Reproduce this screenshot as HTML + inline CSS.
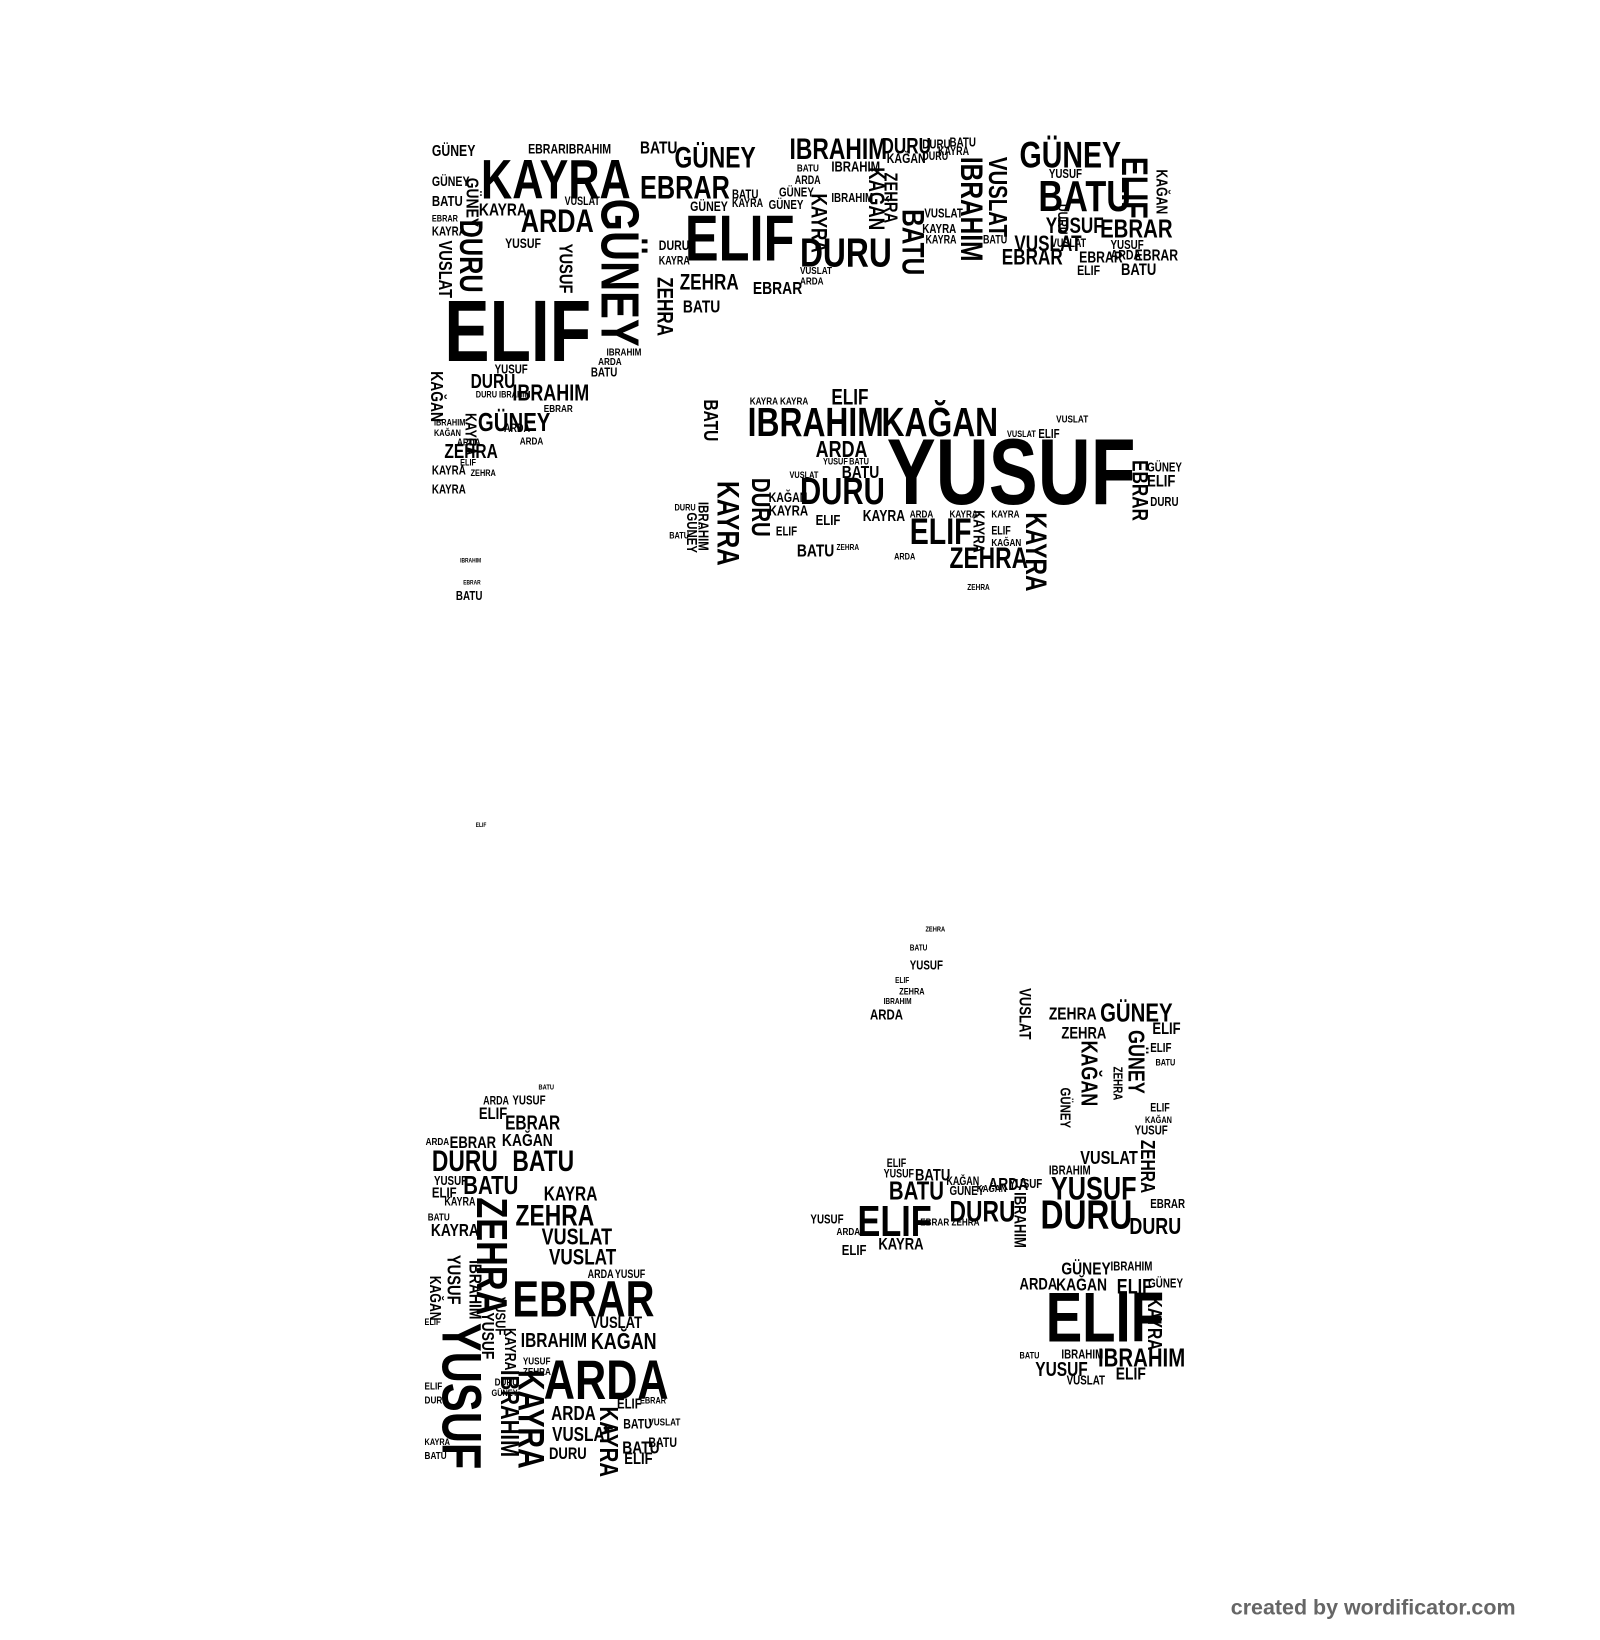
<!DOCTYPE html>
<html><head><meta charset="utf-8"><style>
html,body{margin:0;padding:0;background:#fff;width:1600px;height:1640px;overflow:hidden}
#c{position:absolute;left:0;top:0;width:1530px;height:1568px;transform:scale(1.0457);transform-origin:0 0}
#c div{position:absolute;font-family:"Liberation Sans Narrow","Liberation Sans",sans-serif;font-weight:bold;line-height:1;white-space:nowrap;color:#000;transform:scaleX(0.78);transform-origin:0 0}
#c div.v{writing-mode:vertical-rl;text-orientation:sideways;transform:scaleY(0.78)}
#c div.f{font-family:"Liberation Sans",sans-serif;color:#666;font-size:20.5px;transform:none}
</style></head><body><div id="c">
<!-- top region -->
<div style="left:460px;top:146px;font-size:53px">KAYRA</div>
<div style="left:425px;top:275px;font-size:83px">ELIF</div>
<div style="left:498px;top:196px;font-size:31px">ARDA</div>
<div style="left:655px;top:198px;font-size:62px">ELIF</div>
<div style="left:612px;top:164px;font-size:31px">EBRAR</div>
<div style="left:645px;top:137px;font-size:28px">GÜNEY</div>
<div style="left:755px;top:129px;font-size:28px">IBRAHIM</div>
<div style="left:843px;top:130px;font-size:21px">DURU</div>
<div style="left:765px;top:223px;font-size:39px">DURU</div>
<div style="left:975px;top:131px;font-size:35px">GÜNEY</div>
<div style="left:993px;top:167px;font-size:42px">BATU</div>
<div style="left:1052px;top:207px;font-size:25px">EBRAR</div>
<div style="left:958px;top:236px;font-size:21px">EBRAR</div>
<div style="left:1000px;top:206px;font-size:21px">YUSUF</div>
<div style="left:970px;top:223px;font-size:21px">VUSLAT</div>
<div style="left:650px;top:260px;font-size:21px">ZEHRA</div>
<div style="left:653px;top:285px;font-size:17px">BATU</div>
<div style="left:490px;top:365px;font-size:22px">IBRAHIM</div>
<div style="left:457px;top:392px;font-size:25px">GÜNEY</div>
<div style="left:425px;top:423px;font-size:19px">ZEHRA</div>
<div style="left:450px;top:356px;font-size:19px">DURU</div>
<div style="left:458px;top:192px;font-size:17px">KAYRA</div>
<div style="left:413px;top:137px;font-size:15px">GÜNEY</div>
<div style="left:413px;top:167px;font-size:13px">GÜNEY</div>
<div style="left:413px;top:185px;font-size:14px">BATU</div>
<div style="left:413px;top:215px;font-size:12px">KAYRA</div>
<div style="left:413px;top:205px;font-size:9px">EBRAR</div>
<div style="left:505px;top:136px;font-size:13px">EBRARIBRAHIM</div>
<div style="left:612px;top:133px;font-size:17px">BATU</div>
<div style="left:483px;top:226px;font-size:13px">YUSUF</div>
<div style="left:540px;top:188px;font-size:11px">VUSLAT</div>
<div style="left:630px;top:228px;font-size:13px">DURU</div>
<div style="left:630px;top:245px;font-size:11px">KAYRA</div>
<div style="left:660px;top:191px;font-size:13px">GÜNEY</div>
<div style="left:720px;top:267px;font-size:17px">EBRAR</div>
<div style="left:700px;top:180px;font-size:12px">BATU</div>
<div style="left:700px;top:190px;font-size:11px">KAYRA</div>
<div style="left:745px;top:178px;font-size:12px">GÜNEY</div>
<div style="left:735px;top:190px;font-size:12px">GÜNEY</div>
<div style="left:795px;top:152px;font-size:14px">IBRAHIM</div>
<div style="left:848px;top:145px;font-size:13px">KAĞAN</div>
<div style="left:795px;top:183px;font-size:12px">IBRAHIM</div>
<div style="left:882px;top:132px;font-size:12px">DURU</div>
<div style="left:882px;top:145px;font-size:11px">DURU</div>
<div style="left:908px;top:130px;font-size:12px">BATU</div>
<div style="left:897px;top:140px;font-size:11px">KAYRA</div>
<div style="left:884px;top:198px;font-size:12px">VUSLAT</div>
<div style="left:882px;top:213px;font-size:12px">KAYRA</div>
<div style="left:885px;top:225px;font-size:11px">KAYRA</div>
<div style="left:1032px;top:239px;font-size:15px">EBRAR</div>
<div style="left:1062px;top:237px;font-size:13px">ARDA</div>
<div style="left:1085px;top:237px;font-size:15px">EBRAR</div>
<div style="left:1072px;top:251px;font-size:16px">BATU</div>
<div style="left:1030px;top:252px;font-size:13px">ELIF</div>
<div style="left:1062px;top:228px;font-size:12px">YUSUF</div>
<div style="left:1005px;top:228px;font-size:11px">VUSLAT</div>
<div style="left:1003px;top:160px;font-size:12px">YUSUF</div>
<div style="left:940px;top:225px;font-size:11px">BATU</div>
<div style="left:765px;top:255px;font-size:10px">VUSLAT</div>
<div style="left:765px;top:265px;font-size:10px">ARDA</div>
<div style="left:760px;top:168px;font-size:11px">ARDA</div>
<div style="left:762px;top:157px;font-size:10px">BATU</div>
<div style="left:482px;top:405px;font-size:11px">ARDA</div>
<div style="left:473px;top:347px;font-size:12px">YUSUF</div>
<div style="left:565px;top:350px;font-size:12px">BATU</div>
<div style="left:572px;top:342px;font-size:10px">ARDA</div>
<div style="left:580px;top:333px;font-size:10px">IBRAHIM</div>
<div style="left:520px;top:387px;font-size:10px">EBRAR</div>
<div style="left:497px;top:418px;font-size:10px">ARDA</div>
<div style="left:413px;top:444px;font-size:12px">KAYRA</div>
<div style="left:413px;top:462px;font-size:12px">KAYRA</div>
<div style="left:415px;top:400px;font-size:9px">IBRAHIM</div>
<div style="left:415px;top:410px;font-size:9px">KAĞAN</div>
<div style="left:455px;top:373px;font-size:9px">DURU IBRAHIM</div>
<div style="left:437px;top:419px;font-size:10px">ARDA</div>
<div style="left:450px;top:448px;font-size:9px">ZEHRA</div>
<div style="left:440px;top:438px;font-size:9px">ELIF</div>
<!-- verticals top -->
<div class="v" style="left:567px;top:190px;font-size:51px">GÜNEY</div>
<div class="v" style="left:435px;top:210px;font-size:31px">DURU</div>
<div class="v" style="left:1067px;top:150px;font-size:35px">ELIF</div>
<div class="v" style="left:913px;top:150px;font-size:30px">IBRAHIM</div>
<div class="v" style="left:941px;top:150px;font-size:25px">VUSLAT</div>
<div class="v" style="left:857px;top:200px;font-size:30px">BATU</div>
<div class="v" style="left:625px;top:265px;font-size:21px">ZEHRA</div>
<div class="v" style="left:772px;top:185px;font-size:21px">KAYRA</div>
<div class="v" style="left:827px;top:160px;font-size:21px">KAĞAN</div>
<div class="v" style="left:843px;top:165px;font-size:18px">ZEHRA</div>
<div class="v" style="left:417px;top:230px;font-size:18px">VUSLAT</div>
<div class="v" style="left:532px;top:233px;font-size:18px">YUSUF</div>
<div class="v" style="left:409px;top:355px;font-size:17px">KAĞAN</div>
<div class="v" style="left:442px;top:395px;font-size:15px">KAYRA</div>
<div class="v" style="left:443px;top:170px;font-size:17px">GÜNEY</div>
<div class="v" style="left:1103px;top:162px;font-size:15px">KAĞAN</div>
<div class="v" style="left:1010px;top:195px;font-size:13px">DURU</div>
<!-- middle -->
<div style="left:848px;top:407px;font-size:90px">YUSUF</div>
<div style="left:715px;top:385px;font-size:39px">IBRAHIM</div>
<div style="left:843px;top:385px;font-size:39px">KAĞAN</div>
<div style="left:795px;top:370px;font-size:21px">ELIF</div>
<div style="left:780px;top:419px;font-size:22px">ARDA</div>
<div style="left:765px;top:452px;font-size:36px">DURU</div>
<div style="left:870px;top:491px;font-size:35px">ELIF</div>
<div style="left:908px;top:520px;font-size:28px">ZEHRA</div>
<div style="left:762px;top:518px;font-size:17px">BATU</div>
<div style="left:825px;top:486px;font-size:15px">KAYRA</div>
<div style="left:805px;top:443px;font-size:17px">BATU</div>
<div style="left:735px;top:469px;font-size:13px">KAĞAN</div>
<div style="left:735px;top:481px;font-size:14px">KAYRA</div>
<div style="left:780px;top:490px;font-size:14px">ELIF</div>
<div style="left:742px;top:502px;font-size:12px">ELIF</div>
<div style="left:717px;top:380px;font-size:10px">KAYRA KAYRA</div>
<div style="left:1097px;top:441px;font-size:12px">GÜNEY</div>
<div style="left:1097px;top:453px;font-size:16px">ELIF</div>
<div style="left:1100px;top:474px;font-size:12px">DURU</div>
<div style="left:1010px;top:397px;font-size:10px">VUSLAT</div>
<div style="left:993px;top:409px;font-size:12px">ELIF</div>
<div style="left:963px;top:411px;font-size:9px">VUSLAT</div>
<div style="left:870px;top:488px;font-size:10px">ARDA</div>
<div style="left:908px;top:488px;font-size:10px">KAYRA</div>
<div style="left:948px;top:488px;font-size:10px">KAYRA</div>
<div style="left:948px;top:515px;font-size:10px">KAĞAN</div>
<div style="left:948px;top:503px;font-size:11px">ELIF</div>
<div style="left:855px;top:528px;font-size:9px">ARDA</div>
<div style="left:925px;top:558px;font-size:8px">ZEHRA</div>
<div style="left:800px;top:520px;font-size:8px">ZEHRA</div>
<div style="left:645px;top:481px;font-size:9px">DURU</div>
<div style="left:640px;top:508px;font-size:9px">BATU</div>
<div style="left:787px;top:437px;font-size:9px">YUSUF</div>
<div style="left:812px;top:437px;font-size:9px">BATU</div>
<div style="left:755px;top:450px;font-size:9px">VUSLAT</div>
<div class="v" style="left:976px;top:490px;font-size:28px">KAYRA</div>
<div class="v" style="left:680px;top:460px;font-size:30px">KAYRA</div>
<div class="v" style="left:669px;top:382px;font-size:19px">BATU</div>
<div class="v" style="left:714px;top:457px;font-size:25px">DURU</div>
<div class="v" style="left:1079px;top:440px;font-size:21px">EBRAR</div>
<div class="v" style="left:666px;top:480px;font-size:14px">IBRAHIM</div>
<div class="v" style="left:655px;top:490px;font-size:14px">GÜNEY</div>
<div class="v" style="left:928px;top:488px;font-size:15px">KAYRA</div>
<!-- isolated -->
<div style="left:440px;top:534px;font-size:6px">IBRAHIM</div>
<div style="left:443px;top:555px;font-size:6px">EBRAR</div>
<div style="left:436px;top:564px;font-size:12px">BATU</div>
<div style="left:455px;top:787px;font-size:6px">ELIF</div>
<div style="left:885px;top:886px;font-size:7px">ZEHRA</div>
<div style="left:870px;top:903px;font-size:8px">BATU</div>
<div style="left:870px;top:917px;font-size:12px">YUSUF</div>
<div style="left:856px;top:934px;font-size:8px">ELIF</div>
<div style="left:860px;top:944px;font-size:9px">ZEHRA</div>
<div style="left:845px;top:954px;font-size:8px">IBRAHIM</div>
<div style="left:832px;top:963px;font-size:14px">ARDA</div>
<div style="left:515px;top:1037px;font-size:7px">BATU</div>
<!-- bottom right -->
<div style="left:1000px;top:1227px;font-size:67px">ELIF</div>
<div style="left:1050px;top:1287px;font-size:25px">IBRAHIM</div>
<div style="left:1005px;top:1121px;font-size:31px">YUSUF</div>
<div style="left:995px;top:1143px;font-size:39px">DURU</div>
<div style="left:820px;top:1147px;font-size:42px">ELIF</div>
<div style="left:850px;top:1127px;font-size:25px">BATU</div>
<div style="left:908px;top:1145px;font-size:28px">DURU</div>
<div style="left:1052px;top:957px;font-size:25px">GÜNEY</div>
<div style="left:1003px;top:961px;font-size:17px">ZEHRA</div>
<div style="left:1015px;top:981px;font-size:16px">ZEHRA</div>
<div style="left:1033px;top:1098px;font-size:18px">VUSLAT</div>
<div style="left:1080px;top:1162px;font-size:22px">DURU</div>
<div style="left:840px;top:1183px;font-size:16px">KAYRA</div>
<div style="left:990px;top:1301px;font-size:19px">YUSUF</div>
<div style="left:1015px;top:1205px;font-size:17px">GÜNEY</div>
<div style="left:1010px;top:1220px;font-size:17px">KAĞAN</div>
<div style="left:975px;top:1221px;font-size:16px">ARDA</div>
<div style="left:1062px;top:1205px;font-size:12px">IBRAHIM</div>
<div style="left:1068px;top:1221px;font-size:20px">ELIF</div>
<div style="left:1098px;top:1221px;font-size:12px">GÜNEY</div>
<div style="left:1067px;top:1305px;font-size:17px">ELIF</div>
<div style="left:1020px;top:1314px;font-size:12px">VUSLAT</div>
<div style="left:1015px;top:1289px;font-size:12px">IBRAHIM</div>
<div style="left:975px;top:1292px;font-size:9px">BATU</div>
<div style="left:1102px;top:977px;font-size:16px">ELIF</div>
<div style="left:1100px;top:996px;font-size:12px">ELIF</div>
<div style="left:1105px;top:1012px;font-size:9px">BATU</div>
<div style="left:1100px;top:1055px;font-size:11px">ELIF</div>
<div style="left:1085px;top:1075px;font-size:12px">YUSUF</div>
<div style="left:1095px;top:1067px;font-size:9px">KAĞAN</div>
<div style="left:1100px;top:1145px;font-size:12px">EBRAR</div>
<div style="left:945px;top:1124px;font-size:17px">ARDA</div>
<div style="left:880px;top:1165px;font-size:10px">EBRAR ZEHRA</div>
<div style="left:775px;top:1160px;font-size:12px">YUSUF</div>
<div style="left:805px;top:1188px;font-size:14px">ELIF</div>
<div style="left:800px;top:1174px;font-size:10px">ARDA</div>
<div style="left:848px;top:1108px;font-size:11px">ELIF</div>
<div style="left:845px;top:1118px;font-size:11px">YUSUF</div>
<div style="left:875px;top:1117px;font-size:16px">BATU</div>
<div style="left:908px;top:1133px;font-size:12px">GÜNEY</div>
<div style="left:934px;top:1133px;font-size:10px">KAĞAN</div>
<div style="left:905px;top:1125px;font-size:11px">KAĞAN</div>
<div style="left:965px;top:1126px;font-size:12px">YUSUF</div>
<div style="left:1003px;top:1113px;font-size:12px">IBRAHIM</div>
<div class="v" style="left:1075px;top:985px;font-size:22px">GÜNEY</div>
<div class="v" style="left:1030px;top:995px;font-size:22px">KAĞAN</div>
<div class="v" style="left:1094px;top:1240px;font-size:19px">KAYRA</div>
<div class="v" style="left:1087px;top:1090px;font-size:19px">ZEHRA</div>
<div class="v" style="left:966px;top:1140px;font-size:16px">IBRAHIM</div>
<div class="v" style="left:1012px;top:1040px;font-size:14px">GÜNEY</div>
<div class="v" style="left:971px;top:945px;font-size:16px">VUSLAT</div>
<div class="v" style="left:1063px;top:1020px;font-size:12px">ZEHRA</div>
<!-- bottom left -->
<div style="left:490px;top:1219px;font-size:49px">EBRAR</div>
<div style="left:520px;top:1294px;font-size:53px">ARDA</div>
<div style="left:493px;top:1149px;font-size:28px">ZEHRA</div>
<div style="left:413px;top:1097px;font-size:28px">DURU</div>
<div style="left:490px;top:1097px;font-size:28px">BATU</div>
<div style="left:443px;top:1122px;font-size:25px">BATU</div>
<div style="left:518px;top:1172px;font-size:22px">VUSLAT</div>
<div style="left:525px;top:1192px;font-size:21px">VUSLAT</div>
<div style="left:498px;top:1273px;font-size:19px">IBRAHIM</div>
<div style="left:565px;top:1272px;font-size:22px">KAĞAN</div>
<div style="left:527px;top:1343px;font-size:19px">ARDA</div>
<div style="left:483px;top:1065px;font-size:19px">EBRAR</div>
<div style="left:480px;top:1082px;font-size:17px">KAĞAN</div>
<div style="left:520px;top:1133px;font-size:19px">KAYRA</div>
<div style="left:412px;top:1168px;font-size:17px">KAYRA</div>
<div style="left:430px;top:1086px;font-size:16px">EBRAR</div>
<div style="left:565px;top:1258px;font-size:16px">VUSLAT</div>
<div style="left:528px;top:1363px;font-size:19px">VUSLAT</div>
<div style="left:595px;top:1376px;font-size:17px">BATU</div>
<div style="left:525px;top:1383px;font-size:16px">DURU</div>
<div style="left:597px;top:1388px;font-size:16px">ELIF</div>
<div style="left:620px;top:1373px;font-size:13px">BATU</div>
<div style="left:458px;top:1058px;font-size:16px">ELIF</div>
<div style="left:462px;top:1048px;font-size:11px">ARDA</div>
<div style="left:490px;top:1046px;font-size:12px">YUSUF</div>
<div style="left:413px;top:1133px;font-size:14px">ELIF</div>
<div style="left:415px;top:1123px;font-size:12px">YUSUF</div>
<div style="left:407px;top:1088px;font-size:10px">ARDA</div>
<div style="left:409px;top:1160px;font-size:10px">BATU</div>
<div style="left:425px;top:1145px;font-size:11px">KAYRA</div>
<div style="left:588px;top:1214px;font-size:11px">YUSUF</div>
<div style="left:562px;top:1214px;font-size:11px">ARDA</div>
<div style="left:590px;top:1335px;font-size:14px">ELIF</div>
<div style="left:612px;top:1335px;font-size:9px">EBRAR</div>
<div style="left:620px;top:1356px;font-size:10px">VUSLAT</div>
<div style="left:596px;top:1355px;font-size:13px">BATU</div>
<div style="left:500px;top:1298px;font-size:10px">YUSUF</div>
<div style="left:500px;top:1308px;font-size:10px">ZEHRA</div>
<div style="left:473px;top:1318px;font-size:10px">DURU</div>
<div style="left:470px;top:1328px;font-size:9px">GÜNEY</div>
<div style="left:406px;top:1322px;font-size:10px">ELIF</div>
<div style="left:406px;top:1335px;font-size:10px">DURU</div>
<div style="left:406px;top:1388px;font-size:10px">BATU</div>
<div style="left:406px;top:1375px;font-size:9px">KAYRA</div>
<div style="left:406px;top:1260px;font-size:9px">ELIF</div>
<div class="v" style="left:414px;top:1265px;font-size:53px">YUSUF</div>
<div class="v" style="left:449px;top:1145px;font-size:42px">ZEHRA</div>
<div class="v" style="left:490px;top:1310px;font-size:35px">KAYRA</div>
<div class="v" style="left:474px;top:1310px;font-size:25px">IBRAHIM</div>
<div class="v" style="left:569px;top:1345px;font-size:25px">KAYRA</div>
<div class="v" style="left:446px;top:1205px;font-size:17px">IBRAHIM</div>
<div class="v" style="left:458px;top:1255px;font-size:17px">YUSUF</div>
<div class="v" style="left:425px;top:1200px;font-size:18px">YUSUF</div>
<div class="v" style="left:408px;top:1220px;font-size:15px">KAĞAN</div>
<div class="v" style="left:480px;top:1270px;font-size:15px">KAYRA</div>
<div class="v" style="left:472px;top:1240px;font-size:14px">YUSUF</div>
<div class="f" style="left:1177px;top:1528px">created by wordificator.com</div>
</div></body></html>
